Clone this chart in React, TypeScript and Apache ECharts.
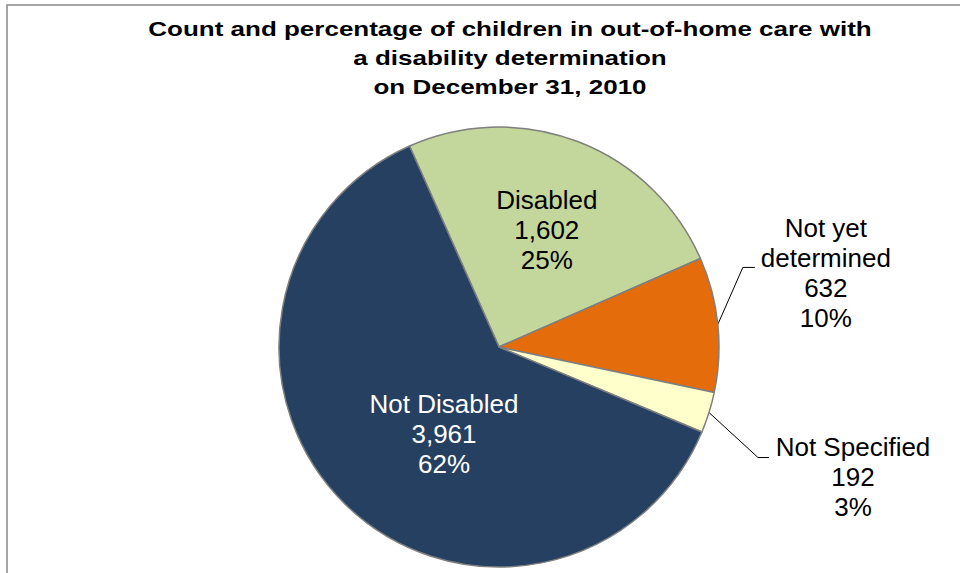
import React, { useEffect, useRef } from 'react';
import * as echarts from 'echarts';

const categories = ['Disabled', 'Not yet determined', 'Not Specified', 'Not Disabled'];
const labelNames = ['Disabled', 'Not yet\ndetermined', 'Not Specified', 'Not Disabled'];
const counts = [1602, 632, 192, 3961];
const sliceColors = ['#C3D69B', '#E46C0A', '#FFFFCC', '#254061'];
const labelColors = ['#000000', '#000000', '#000000', '#FFFFFF'];
const titleLines = [
  'Count and percentage of children in out-of-home care with',
  'a disability determination',
  'on December 31, 2010',
];

const FONT = '"Liberation Sans", Arial, Helvetica, sans-serif';

// label placement (styling, relative to library-computed anchors)
const insideShift: Record<number, [number, number]> = { 0: [7, -12], 3: [24, 6] };
const outsidePlacement: Record<number, { text: [number, number]; line: [number, number][] }> = {
  1: { text: [108, -51], line: [[25, -57], [37, -57]] },
  2: { text: [144, 64], line: [[49, 45], [60, 45]] },
};

export default function App() {
  const ref = useRef<HTMLDivElement>(null);
  useEffect(() => {
    if (!ref.current) return;
    const chart = echarts.init(ref.current, undefined, { renderer: 'svg' });
    const data = categories.map((name, i) => ({
      name,
      value: counts[i],
      itemStyle: { color: sliceColors[i] },
      label: {
        position: outsidePlacement[i] ? 'outside' : 'inside',
        color: labelColors[i],
      },
      labelLine: { show: !!outsidePlacement[i] },
    }));
    chart.setOption({
      animation: false,
      graphic: [
        {
          type: 'rect',
          shape: { x: 7, y: 5, width: 1200, height: 1200 },
          style: { fill: 'none', stroke: '#868686', lineWidth: 1.5 },
          silent: true,
          z: -1,
        },
        {
          type: 'text',
          x: 510,
          y: 14.5,
          scaleX: 1.3,
          silent: true,
          style: {
            text: titleLines.join('\n'),
            align: 'center',
            verticalAlign: 'top',
            fontFamily: FONT,
            fontWeight: 'bold',
            fontSize: 20,
            lineHeight: 29,
            fill: '#000',
          },
        },
      ],
      series: [
        {
          type: 'pie',
          center: [499, 347],
          radius: 220,
          startAngle: 114,
          clockwise: true,
          avoidLabelOverlap: false,
          percentPrecision: 0,
          itemStyle: { borderColor: '#7F7F7F', borderWidth: 1.5 },
          label: {
            fontFamily: FONT,
            fontSize: 26,
            formatter: (p: any) => {
              const lines = [labelNames[p.dataIndex], Number(p.value).toLocaleString('en-US'), p.percent + '%'];
              return lines
                .join('\n')
                .split('\n')
                .map((l) => `{t|${l}}`)
                .join('\n');
            },
            rich: {
              t: { align: 'center', fontFamily: FONT, fontSize: 26, lineHeight: 30 },
            },
          },
          labelLine: {
            length: 20,
            length2: 10,
            lineStyle: { color: '#000', width: 1 },
          },
          labelLayout: (params: any) => {
            const i = params.dataIndex;
            const op = outsidePlacement[i];
            if (op && params.labelLinePoints) {
              const p0 = params.labelLinePoints[0];
              return {
                x: p0[0] + op.text[0],
                y: p0[1] + op.text[1],
                align: 'center',
                verticalAlign: 'middle',
                labelLinePoints: [p0, ...op.line.map((d) => [p0[0] + d[0], p0[1] + d[1]])],
              };
            }
            const r = params.labelRect;
            const s = insideShift[i] || [0, 0];
            return {
              x: r.x + r.width / 2 + s[0],
              y: r.y + r.height / 2 + s[1],
              align: 'center',
              verticalAlign: 'middle',
            };
          },
          data,
        },
      ],
    });
    return () => chart.dispose();
  }, []);
  return (
    <div
      ref={ref}
      style={{ position: 'absolute', left: 0, top: 0, width: 960, height: 573, background: '#fff' }}
    />
  );
}
